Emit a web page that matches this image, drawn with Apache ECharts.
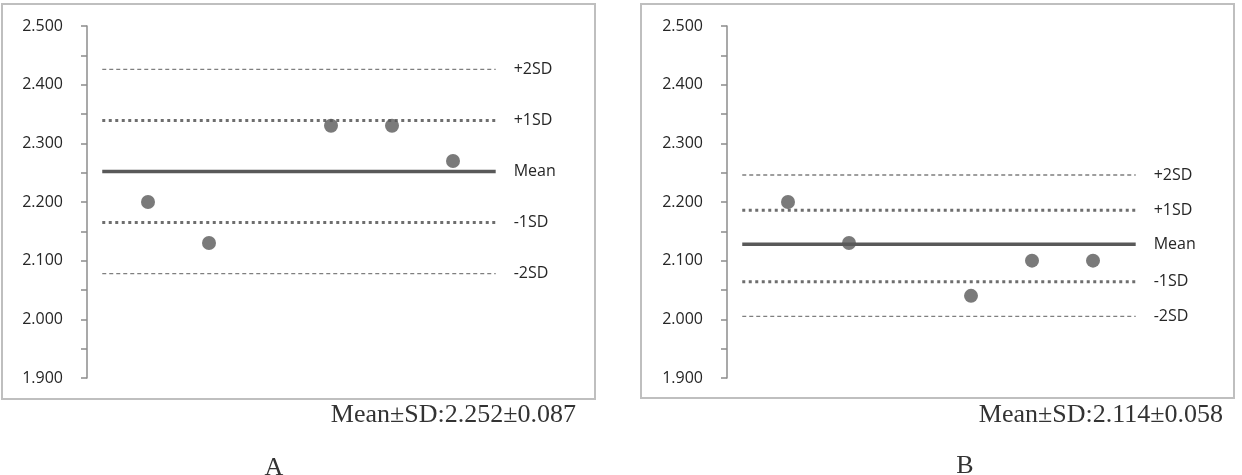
<!DOCTYPE html>
<html>
<head>
<meta charset="utf-8">
<script src="https://cdn.jsdelivr.net/npm/echarts@6/dist/echarts.min.js"></script>
<style>
html,body{margin:0;padding:0;background:#fff;}
#chart{width:1242px;height:475px;}
</style>
</head>
<body>
<div id="chart"></div>
<script>
// ---- data ----
const sampleX = [1, 2, 4, 5, 6];
const valuesA = [2.20, 2.13, 2.33, 2.33, 2.27];
const valuesB = [2.20, 2.13, 2.04, 2.10, 2.10];
const refLabels = ['+2SD', '+1SD', 'Mean', '-1SD', '-2SD'];
const refA = [2.426, 2.339, 2.252, 2.165, 2.078];
const refB = [2.246, 2.186, 2.128, 2.064, 2.005];
const refLineX = [0.25, 6.7];
const yMin = 1.9, yMax = 2.5, yInterval = 0.1;
const captions = ['Mean±SD:2.252±0.087', 'Mean±SD:2.114±0.058'];
const panelLetters = ['A', 'B'];

// ---- styles ----
const refStyles = [
  {type: [4, 3], width: 1.3, color: '#7f7f7f'},
  {type: [3, 3.5], width: 3, color: '#6e6e6e'},
  {type: 'solid', width: 3.5, color: '#595959'},
  {type: [3, 3.5], width: 3, color: '#6e6e6e'},
  {type: [4, 3], width: 1.3, color: '#7f7f7f'}
];
const labelFont = {fontFamily: 'Open Sans', fontSize: 16, color: '#262626'};

const chart = echarts.init(document.getElementById('chart'), null, {renderer: 'canvas'});

const grids = [
  {left: 87, top: 26, width: 427, height: 352},
  {left: 727, top: 26, width: 427, height: 352}
];

function yAxisFor(i) {
  return {
    type: 'value', gridIndex: i, min: yMin, max: yMax, interval: yInterval,
    axisLine: {show: true, lineStyle: {color: '#8c8c8c', width: 1.5}},
    axisTick: {show: true, length: 6, lineStyle: {color: '#8c8c8c', width: 1.5}},
    minorTick: {show: true, splitNumber: 2, length: 6, lineStyle: {color: '#8c8c8c', width: 1.5}},
    splitLine: {show: false},
    axisLabel: Object.assign({margin: 24, formatter: v => v.toFixed(3)}, labelFont)
  };
}
function xAxisFor(i) {
  return {type: 'value', gridIndex: i, min: 0, max: 7, show: false};
}

const series = [];
[refA, refB].forEach((refs, gi) => {
  refs.forEach((v, k) => {
    series.push({
      type: 'line', xAxisIndex: gi, yAxisIndex: gi,
      data: refLineX.map(x => [x, v]),
      showSymbol: false, symbol: 'none',
      lineStyle: refStyles[k],
      endLabel: Object.assign({show: true, formatter: refLabels[k], distance: 18}, labelFont),
      silent: true, z: 2
    });
  });
});
[valuesA, valuesB].forEach((vals, gi) => {
  series.push({
    type: 'scatter', xAxisIndex: gi, yAxisIndex: gi,
    data: sampleX.map((x, j) => [x, vals[j]]),
    symbol: 'circle', symbolSize: 14,
    itemStyle: {color: '#595959'}, z: 5
  });
});

const graphic = [
  {type: 'rect', shape: {x: 2, y: 4, width: 593, height: 395}, style: {fill: 'none', stroke: '#bfbfbf', lineWidth: 2}, silent: true},
  {type: 'rect', shape: {x: 641, y: 4, width: 593, height: 394}, style: {fill: 'none', stroke: '#bfbfbf', lineWidth: 2}, silent: true},
  {type: 'text', right: 666, top: 402, style: {text: captions[0], font: '26px "Liberation Serif"', fill: '#333'}},
  {type: 'text', right: 19, top: 402, style: {text: captions[1], font: '26px "Liberation Serif"', fill: '#333'}},
  {type: 'text', x: 274, y: 455, style: {text: panelLetters[0], font: '26px "Liberation Serif"', fill: '#333', textAlign: 'center'}},
  {type: 'text', x: 965, y: 453, style: {text: panelLetters[1], font: '26px "Liberation Serif"', fill: '#333', textAlign: 'center'}}
];

chart.setOption({
  animation: false,
  backgroundColor: '#fff',
  grid: grids,
  xAxis: [xAxisFor(0), xAxisFor(1)],
  yAxis: [yAxisFor(0), yAxisFor(1)],
  series: series,
  graphic: graphic
});
</script>
</body>
</html>
